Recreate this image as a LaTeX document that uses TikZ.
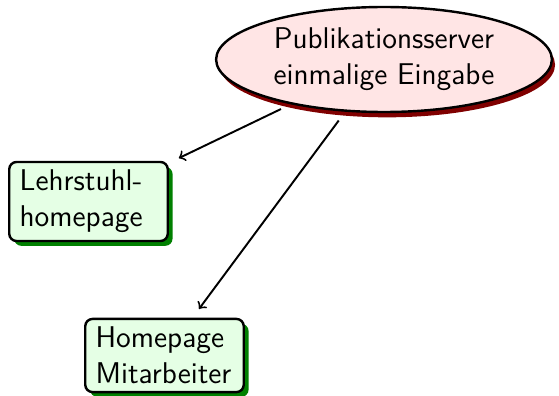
\documentclass[tikz,border=0pt]{standalone}
\usetikzlibrary{shapes.geometric,shadows}

\begin{document}
\begin{tikzpicture}[x=0.01452cm,y=-0.01452cm,
    font=\sffamily\fontsize{12.4}{14.9}\selectfont,
    server/.style={ellipse, draw, line width=1pt, fill=red!10, align=center, inner sep=0pt,
      minimum width=138.8pt, minimum height=43.4pt,
      drop shadow={shadow xshift=1.3pt, shadow yshift=-2.2pt, fill=red!50!black, opacity=1}},
    page/.style={rectangle, rounded corners=3pt, draw, line width=1pt, fill=green!10, align=left,
      text width=2cm, inner xsep=4.3pt, inner ysep=3.3pt,
      drop shadow={shadow xshift=2pt, shadow yshift=-2pt, fill=green!50!black, opacity=1}},
    link/.style={->, thick, shorten <=4.5pt, shorten >=4.5pt}]
  \useasboundingbox (0,0) rectangle (559,396);

  \node[server] (server) at (384,59.5) {Publikationsserver\\einmalige Eingabe};
  \node[page] (chair) at (88.5,201.5) {Lehrstuhl-\\homepage};
  \node[page] (staff) at (164.5,355.5) {Homepage\\Mitarbeiter};

  \draw[link] (server) -- (chair);
  \draw[link] (server) -- (staff);
\end{tikzpicture}
\end{document}
